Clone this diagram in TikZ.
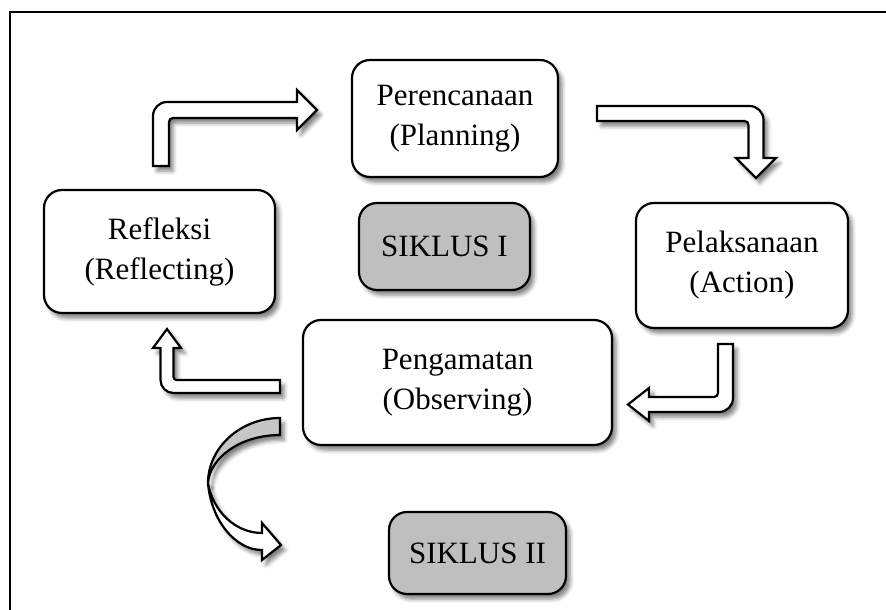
\documentclass[tikz,border=0pt]{standalone}
\usepackage{fontspec}
\setmainfont{Liberation Serif}
\usetikzlibrary{shadows.blur}

\tikzset{
  softshadow/.style={blur shadow={shadow xshift=4pt, shadow yshift=-5pt,
      shadow blur radius=4pt, shadow opacity=50}},
  stagebox/.style={draw, line width=2.2pt, rounded corners=18pt, fill=white,
      align=center, inner sep=0pt, softshadow,
      font=\fontsize{31}{40}\selectfont},
  siklusbox/.style={stagebox, fill=gray!50},
  blockarrow/.style={draw, line width=2.2pt, fill=white, line join=miter, softshadow},
}

\begin{document}
\begin{tikzpicture}[x=1pt, y=1pt]
\useasboundingbox (0,0) rectangle (886,-610);
\clip (0,0) rectangle (886,-610);

% frame
\draw[line width=2pt] (10,-630) -- (10,-12) -- (900,-12);

% stages of the cycle
\node[stagebox, minimum width=206pt, minimum height=117pt] (plan) at (455,-118.5) {Perencanaan\\(Planning)};
\node[stagebox, minimum width=231pt, minimum height=123pt] (refl) at (159.5,-251.5) {Refleksi\\(Reflecting)};
\node[stagebox, minimum width=212pt, minimum height=125pt] (act) at (742,-265.5) {Pelaksanaan\\(Action)};
\node[stagebox, minimum width=309pt, minimum height=125pt] (obs) at (457.5,-382.5) {Pengamatan\\(Observing)};

\node[siklusbox, minimum width=171pt, minimum height=87pt] (sik1) at (444.5,-246.5) {SIKLUS I};
\node[siklusbox, minimum width=177pt, minimum height=82pt] (sik2) at (477.5,-553) {SIKLUS II};

% refleksi -> perencanaan
\draw[blockarrow] (153,-166) -- (153,-116) arc[start angle=180, end angle=90, radius=14]
  -- (297,-102) -- (297,-90) -- (317,-110) -- (297,-130) -- (297,-118)
  -- (173,-118) arc[start angle=90, end angle=180, radius=4] -- (169,-166) -- cycle;

% perencanaan -> pelaksanaan
\draw[blockarrow] (597,-106) -- (749.5,-106) arc[start angle=90, end angle=0, radius=14]
  -- (763.5,-158) -- (776,-158) -- (756,-178) -- (736,-158) -- (748.5,-158)
  -- (748.5,-125) arc[start angle=0, end angle=90, radius=4] -- (597,-121) -- cycle;

% pelaksanaan -> pengamatan
\draw[blockarrow] (718,-344) -- (733,-344) -- (733,-398) arc[start angle=0, end angle=-90, radius=14]
  -- (649,-412) -- (649,-421) -- (628,-404.5) -- (649,-388) -- (649,-397)
  -- (714,-397) arc[start angle=-90, end angle=0, radius=4] -- (718,-344) -- cycle;

% pengamatan -> refleksi
\draw[blockarrow] (280,-380) -- (280,-393) -- (173.5,-393) arc[start angle=-90, end angle=-180, radius=13]
  -- (160.5,-348) -- (153,-348) -- (167,-329) -- (181,-348) -- (173.5,-348)
  -- (173.5,-377) arc[start angle=180, end angle=270, radius=3] -- (280,-380) -- cycle;

% pengamatan -> siklus II
\draw[blockarrow, fill=gray!45] (280,-418) .. controls (240,-418) and (208,-448) .. (208,-483)
  .. controls (210,-458) and (240,-435) .. (280,-435) -- cycle;
\draw[blockarrow] (208,-483) .. controls (211,-520) and (235,-550) .. (262,-550)
  -- (262,-560) -- (281,-545) -- (262,-523) -- (262,-533)
  .. controls (236,-533) and (213,-512) .. (208,-483) -- cycle;
\end{tikzpicture}
\end{document}
